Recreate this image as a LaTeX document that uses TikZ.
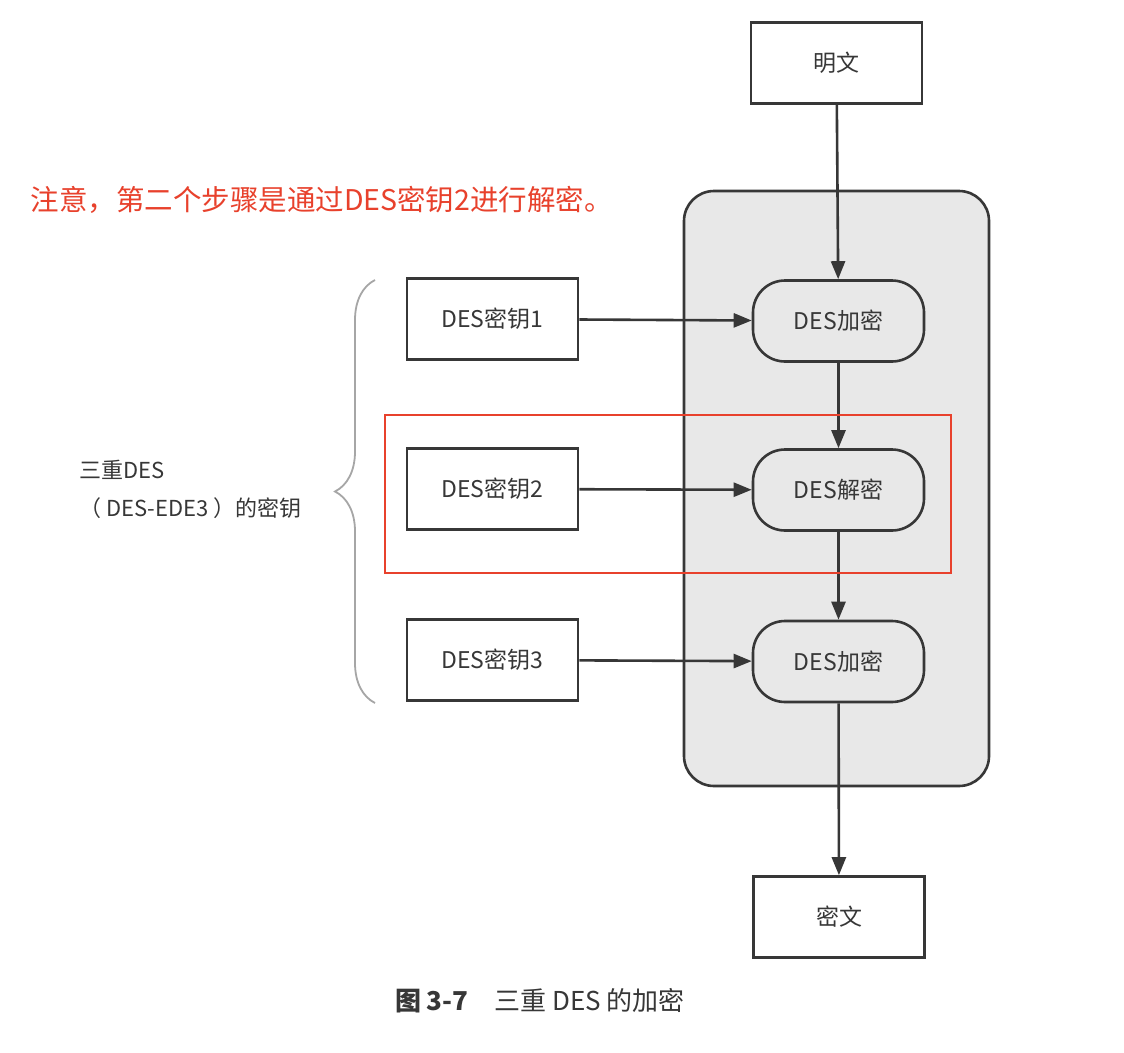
\documentclass[tikz,border=0pt]{standalone}
\usepackage{fontspec}
\setmainfont{Noto Sans CJK SC}
\usetikzlibrary{arrows.meta,decorations.pathreplacing}
\definecolor{ln}{RGB}{55,55,55}
\definecolor{redc}{RGB}{232,65,44}
\begin{document}
\begin{tikzpicture}[x=1pt,y=-1pt,
  box/.style={draw=ln,line width=2.6pt,minimum width=171pt,minimum height=81pt,inner sep=0pt,font=\fontsize{23}{26}\selectfont,text=ln},
  proc/.style={box,rounded corners=32pt},
  arr/.style={draw=ln,line width=2.6pt,-{Triangle[length=18pt,width=14pt]}}]
\useasboundingbox (0,0) rectangle (1124,1052);
\fill[white] (0,0) rectangle (1124,1052);
\node[draw=ln,line width=2.6pt,fill=gray!18,rounded corners=30pt,minimum width=305pt,minimum height=595pt,inner sep=0pt] (bg) at (836.5,488.5) {};
\node[box] (pt) at (836.5,63) {明文};
\node[box] (k1) at (492.5,319) {DES密钥1};
\node[box] (k2) at (492.5,489) {DES密钥2};
\node[box] (k3) at (492.5,660) {DES密钥3};
\node[proc] (e1) at (838.5,321) {DES加密};
\node[proc] (d2) at (838.5,490) {DES解密};
\node[proc] (e3) at (838.5,661.5) {DES加密};
\node[box] (ct) at (839,917) {密文};
\draw[arr] (pt) -- (e1);
\draw[arr] (e1) -- (d2);
\draw[arr] (d2) -- (e3);
\draw[arr] (e3) -- (ct);
\draw[arr] (k1) -- (e1);
\draw[arr] (k2) -- (d2);
\draw[arr] (k3) -- (e3);
\draw[draw=gray!70,line width=1.8pt,decorate,decoration={brace,amplitude=40pt,aspect=0.5}] (375,703) -- (375,280);
\node[anchor=west,align=left,font=\fontsize{22}{38}\selectfont,text=ln] (lb) at (76,489) {三重DES\\（ DES-EDE3 ）的密钥};
\node[draw=redc,line width=2.2pt,minimum width=566pt,minimum height=158pt,inner sep=0pt] (hl) at (668,494) {};
\node[anchor=west,text=redc,font=\fontsize{28.5}{32}\selectfont] (note) at (27,200) {注意，第二个步骤是通过DES密钥2进行解密。};
\node[text=ln,font=\fontsize{26}{30}\selectfont] (cap) at (540,1001) {\textbf{图 3-7}\quad 三重 DES 的加密};
\end{tikzpicture}
\end{document}
